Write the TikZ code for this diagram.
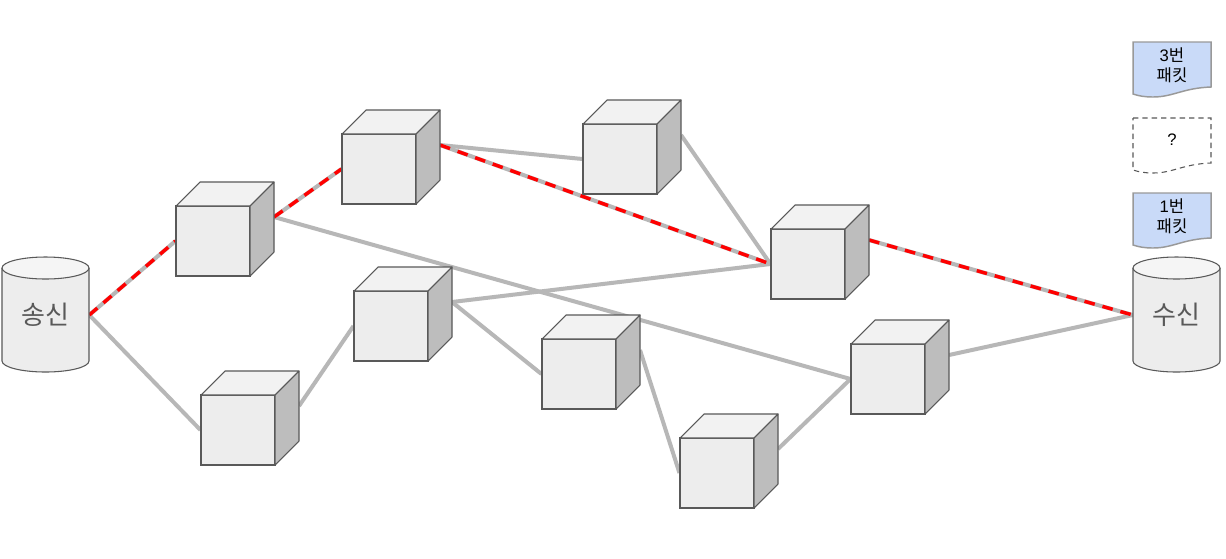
\documentclass[tikz,border=0pt]{standalone}
\usepackage{fontspec}
\setmainfont{Liberation Sans}
\newfontfamily\kr{Noto Sans CJK KR}
\pgfdeclarelayer{background}
\pgfsetlayers{background,main}
\definecolor{linegrey}{HTML}{B7B7B7}
\definecolor{edgegrey}{HTML}{595959}
\definecolor{docblue}{HTML}{C9DAF8}
\tikzset{
  cubefront/.style={draw=edgegrey,line width=.8pt,fill=black!7,inner sep=0pt,minimum width=55.5pt,minimum height=52.5pt},
  cubetop/.style={draw=edgegrey,line width=.8pt,fill=black!5,line join=round},
  cubeside/.style={draw=edgegrey,line width=.8pt,fill=black!26,line join=round},
  cylbody/.style={draw=edgegrey,line width=.8pt,fill=black!7},
  cyltop/.style={draw=edgegrey,line width=.8pt,fill=black!4},
  cyllabel/.style={inner sep=0pt,minimum width=65.25pt,minimum height=86.25pt,text=edgegrey,font=\kr\fontsize{19.5}{22}\selectfont},
  link/.style={draw=linegrey,line width=3pt},
  redlink/.style={draw=red,line width=2.6pt,dash pattern=on 8pt off 6pt},
  docgrey/.style={draw=black!40,line width=1.1pt,fill=docblue},
  docdash/.style={draw=edgegrey,line width=.8pt,dash pattern=on 4pt off 3pt},
  doclabel/.style={inner sep=0pt,align=center,font=\fontsize{12.5}{15}\selectfont,text=black}
}
\newcommand{\cubebox}[3]{%
  \node[cubefront] (#1) at (#2+37,#3+35) {};
  \draw[cubetop] (#2,#3) -- (#2+24,#3-24) -- (#2+98,#3-24) -- (#2+74,#3) -- cycle;
  \draw[cubeside] (#2+74,#3) -- (#2+98,#3-24) -- (#2+98,#3+46) -- (#2+74,#3+70) -- cycle;
  \coordinate (#1e) at (#2+98,#3+11);
}
\newcommand{\cylbox}[3]{%
  \draw[cylbody] (#2,268) -- (#2,361) arc[start angle=180,end angle=360,x radius=43.5,y radius=-11] -- (#2+87,268);
  \draw[cyltop] (#2+43.5,268) ellipse[x radius=43.5,y radius=11];
  \node[cyllabel] (#1) at (#2+43.5,315) {\raisebox{-2.6pt}{#3}};
}
\newcommand{\docwave}[2]{% x-left, y-top
  (#1,#2) -- (#1+78,#2) -- (#1+78,#2+45) .. controls (#1+50,#2+46) and (#1+40,#2+55) .. (#1+20,#2+55) .. controls (#1+12,#2+55) and (#1+6,#2+54) .. (#1,#2+52)
}
\begin{document}
\begin{tikzpicture}[x=0.75pt,y=-0.75pt]
\useasboundingbox (0,0) rectangle (1226,558);
\begin{pgfonlayer}{background}
  \fill[white] (0,0) rectangle (1226,558);
\end{pgfonlayer}
\cubebox{c1}{176}{206}
\cubebox{c2}{342}{134}
\cubebox{c3}{583}{124}
\cubebox{c4}{771}{229}
\cubebox{c5}{201}{395}
\cubebox{c6}{354}{291}
\cubebox{c7}{542}{339}
\cubebox{c8}{680}{438}
\cubebox{c9}{851}{344}
\cylbox{send}{2}{송신}
\cylbox{recv}{1133}{수신}
\begin{pgfonlayer}{background}
  \draw[link] (send.east) -- (c1.west);
  \draw[link] (send.east) -- (c5.west);
  \draw[link] (c1e) -- (c2.west);
  \draw[link] (c1e) -- (c9.west);
  \draw[link] (c2e) -- (c3.west);
  \draw[link] (c2e) -- (c4.west);
  \draw[link] (c3e) -- (c4.west);
  \draw[link] (c4e) -- (recv.west);
  \draw[link] (c5e) -- (c6.west);
  \draw[link] (c6e) -- (c4.west);
  \draw[link] (c6e) -- (c7.west);
  \draw[link] (c7e) -- (c8.west);
  \draw[link] (c8e) -- (c9.west);
  \draw[link] (c9e) -- (recv.west);
  \draw[redlink] (send.east) -- (c1.west);
  \draw[redlink] (c1e) -- (c2.west);
  \draw[redlink] (c2e) -- (c4.west);
  \draw[redlink] (c4e) -- (recv.west);
\end{pgfonlayer}
\draw[docgrey] \docwave{1133}{42} -- cycle;
\node[doclabel] (p3) at (1172,65) {3{\kr 번}\\{\kr 패킷}};
\draw[docdash] \docwave{1133}{118} -- cycle;
\node[doclabel] (pq) at (1172,140) {?};
\draw[docgrey] \docwave{1133}{193} -- cycle;
\node[doclabel] (p1) at (1172,216) {1{\kr 번}\\{\kr 패킷}};
\end{tikzpicture}
\end{document}
